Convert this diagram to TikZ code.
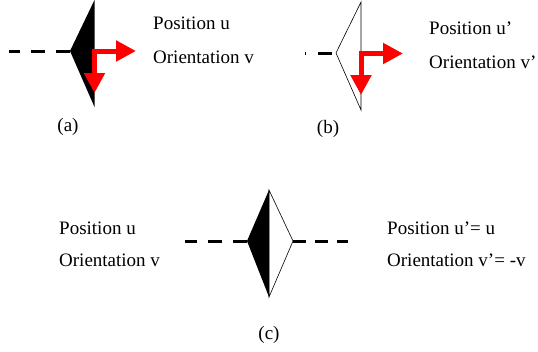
\documentclass[tikz,border=0pt]{standalone}
\usepackage{fontspec}
\setmainfont{Liberation Serif}
\usetikzlibrary{arrows.meta}
\begin{document}
\begin{tikzpicture}[x=1pt,y=-1pt,
  lbl/.style={anchor=base west,inner sep=0pt,font=\fontsize{19}{22}\selectfont},
  caplabel/.style={anchor=center,inner sep=0pt,font=\fontsize{19}{22}\selectfont},
  dashline/.style={line width=3pt},
  redarrow/.style={draw=red,line width=5pt,line join=miter,
    {Triangle[length=20pt,width=20pt,fill=red]}-{Triangle[length=20pt,width=20pt,fill=red]}},
  outl/.style={draw=black,line width=0.6pt}]
\useasboundingbox (0,0) rectangle (538,351);
% (a)
\coordinate (aL) at (70,51);
\coordinate (aT) at (94.5,0);
\coordinate (aB) at (94.5,107);
\coordinate (aE) at (9,51);
\fill[black] (aL) -- (aT) -- (aB) -- cycle;
\draw[dashline,dash pattern=on 14pt off 11pt] (aL) -- (aE);
\coordinate (aC) at (94.5,51);
\coordinate (aH) at (136,51);
\coordinate (aV) at (94.5,93);
\draw[redarrow] (aH) -- (aC) -- (aV);
\node[lbl] (apos) at (153,29) {Position u};
\node[lbl] (aori) at (153,63) {Orientation v};
\node[caplabel] (acap) at (68,127) {(a)};
% (b)
\coordinate (bL) at (336,53);
\coordinate (bT) at (361,2);
\coordinate (bB) at (361,110);
\coordinate (bE) at (305,53);
\draw[outl,fill=white] (bL) -- (bT) -- (bB) -- cycle;
\draw[dashline,dash pattern=on 14pt off 12pt,dash phase=22pt] (bL) -- (bE);
\coordinate (bC) at (361,53.5);
\coordinate (bH) at (403,53.5);
\coordinate (bV) at (361,95);
\draw[redarrow] (bH) -- (bC) -- (bV);
\node[lbl] (bpos) at (429,34) {Position u’};
\node[lbl] (bori) at (429,68) {Orientation v’};
\node[caplabel] (bcap) at (328,129) {(b)};
% (c)
\coordinate (cL) at (247,241);
\coordinate (cT) at (269,190);
\coordinate (cB) at (269,297);
\coordinate (cR) at (293,241);
\coordinate (cE1) at (185,241);
\coordinate (cE2) at (348,241);
\fill[black] (cL) -- (cT) -- (cB) -- cycle;
\draw[outl] (cT) -- (cR) -- (cB) -- cycle;
\draw[dashline,dash pattern=on 14pt off 11pt] (cL) -- (cE1);
\draw[dashline,dash pattern=on 13pt off 9pt] (cR) -- (cE2);
\node[lbl] (cpos) at (59,234) {Position u};
\node[lbl] (cori) at (59,266) {Orientation v};
\node[lbl] (cpos2) at (387,234) {Position u’= u};
\node[lbl] (cori2) at (387,266) {Orientation v’= -v};
\node[caplabel] (ccap) at (269,335) {(c)};
\end{tikzpicture}
\end{document}
